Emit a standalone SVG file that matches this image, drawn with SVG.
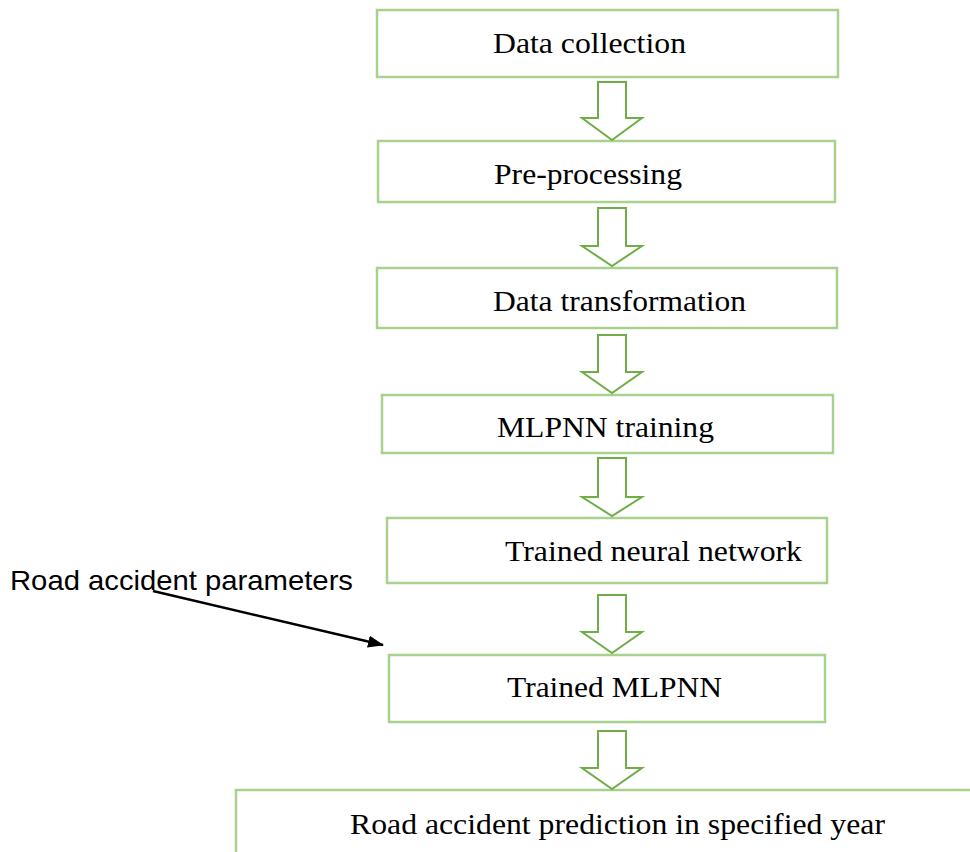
<svg xmlns="http://www.w3.org/2000/svg" width="970" height="852" viewBox="0 0 970 852">
<defs>
<style>
.box{fill:#ffffff;stroke:#a9d18e;stroke-width:2.5}
.blk{fill:#ffffff;stroke:#70ad47;stroke-width:2;stroke-linejoin:miter}
.t{font-family:"Liberation Serif","Times New Roman",serif;font-size:30px;fill:#000}
.lbl{font-family:"Liberation Sans",Arial,sans-serif;font-size:28px;fill:#000}
</style>
<marker id="ah" viewBox="0 0 16 12" refX="15" refY="6" markerWidth="16" markerHeight="12" markerUnits="userSpaceOnUse" orient="auto">
<path d="M0,0 L16,6 L0,12 z" fill="#000"/>
</marker>
</defs>
<rect width="970" height="852" fill="#ffffff"/>
<g id="n1"><rect class="box" x="377" y="10" width="461" height="67"/><text class="t" x="493" y="53" textLength="193" lengthAdjust="spacingAndGlyphs">Data collection</text></g>
<g id="n2"><rect class="box" x="378" y="141" width="457" height="61"/><text class="t" x="494" y="184" textLength="188" lengthAdjust="spacingAndGlyphs">Pre-processing</text></g>
<g id="n3"><rect class="box" x="377" y="268" width="460" height="60"/><text class="t" x="493" y="311" textLength="253" lengthAdjust="spacingAndGlyphs">Data transformation</text></g>
<g id="n4"><rect class="box" x="382" y="395" width="451" height="58"/><text class="t" x="497" y="437" textLength="217" lengthAdjust="spacingAndGlyphs">MLPNN training</text></g>
<g id="n5"><rect class="box" x="387" y="518" width="440" height="65"/><text class="t" x="505" y="561" textLength="297" lengthAdjust="spacingAndGlyphs">Trained neural network</text></g>
<g id="n6"><rect class="box" x="389" y="655" width="436" height="67"/><text class="t" x="507" y="697" textLength="215" lengthAdjust="spacingAndGlyphs">Trained MLPNN</text></g>
<g id="n7"><rect class="box" x="236" y="790" width="760" height="80"/><text class="t" x="350" y="834" textLength="535" lengthAdjust="spacingAndGlyphs">Road accident prediction in specified year</text></g>
<g id="lbl"><text class="lbl" x="10" y="590" textLength="343" lengthAdjust="spacingAndGlyphs">Road accident parameters</text></g>
<g id="connectors">
<path class="blk" d="M598,82 H626 V118 H642 L612,140 L582,118 H598 Z"/>
<path class="blk" d="M598,208 H626 V246 H642 L612,266 L582,246 H598 Z"/>
<path class="blk" d="M598,335 H626 V372 H642 L612,393 L582,372 H598 Z"/>
<path class="blk" d="M598,458 H626 V497 H642 L612,516 L582,497 H598 Z"/>
<path class="blk" d="M598,595 H626 V632 H642 L612,653 L582,632 H598 Z"/>
<path class="blk" d="M598,731 H626 V768 H642 L612,789 L582,768 H598 Z"/>
<line x1="153" y1="591" x2="383" y2="645" stroke="#000" stroke-width="2.5" marker-end="url(#ah)"/>
</g>
</svg>
